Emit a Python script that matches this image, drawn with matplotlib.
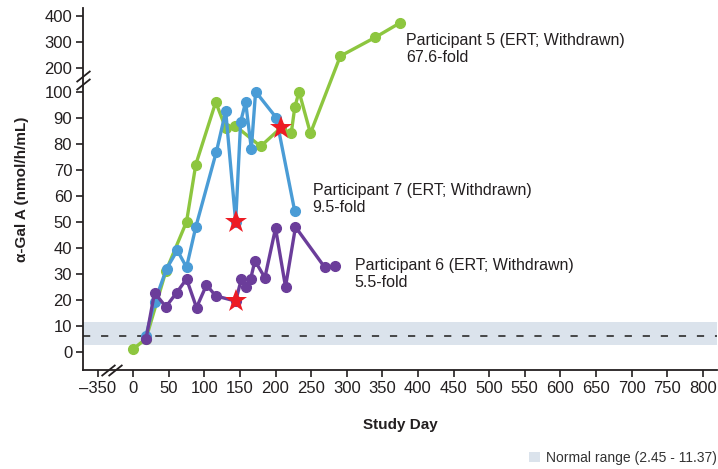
import numpy as np
import matplotlib
matplotlib.use("Agg")
import matplotlib.pyplot as plt
from matplotlib.patches import Patch

plt.rcParams['font.family'] = ['Liberation Sans', 'DejaVu Sans']

# ---------------- data ----------------
p5_days = [-2, 18, 46, 75, 88, 116, 130, 143, 179, 207, 222, 227, 233, 249, 291, 340, 375]
p5_vals = [1.0, 5.0, 31, 50, 72, 96, 86, 87, 79, 86, 84, 94, 100, 84, 247, 319, 375]

p7_days = [18, 30, 47, 62, 75, 88, 117, 130, 144, 151, 158, 166, 172, 201, 227]
p7_vals = [6.2, 19, 32, 39, 32.5, 48, 77, 92.5, 50, 88.5, 96, 78, 100.5, 90, 54]

p6_days = [18, 30, 46, 61, 75, 89, 103, 116, 144, 152, 158, 165, 171, 185, 200, 214, 228, 269, 284]
p6_vals = [4.8, 22.7, 17.3, 22.7, 28, 17, 25.7, 21.5, 19.5, 28, 25, 28, 35, 28.5, 47.5, 25, 48, 32.5, 33]

star_days = [144, 144, 208]
star_vals = [50, 19.5, 86]

normal_low, normal_high = 2.45, 11.37
normal_ref = 6.2

x_ticks = [-350, 0, 50, 100, 150, 200, 250, 300, 350, 400, 450, 500, 550, 600, 650, 700, 750, 800]
y_ticks = [0, 10, 20, 30, 40, 50, 60, 70, 80, 90, 100, 200, 300, 400]

labels = ["Participant 5 (ERT; Withdrawn)\n67.6-fold",
          "Participant 7 (ERT; Withdrawn)\n9.5-fold",
          "Participant 6 (ERT; Withdrawn)\n5.5-fold"]
legend_label = "Normal range (2.45 - 11.37)"

# ---------------- colours ----------------
GREEN = "#8dc63f"
BLUE = "#4a9cd6"
PURPLE = "#6b3d9a"
RED = "#ed1c24"
BAND = "#dbe3ec"
DARK = "#231f20"

# ---------------- broken scales ----------------
def xf(x):
    x = np.asarray(x, float)
    return np.where(x < -350, x + 300, np.where(x < 0, x / 7.0, x))

def xi(t):
    t = np.asarray(t, float)
    return np.where(t < -50, t - 300, np.where(t < 0, t * 7.0, t))

def yf(v):
    v = np.asarray(v, float)
    return np.where(v <= 100, v, np.where(v <= 200, 100 + (v - 100) * 0.09, 109 + (v - 200) * 0.1))

def yi(t):
    t = np.asarray(t, float)
    return np.where(t <= 100, t, np.where(t <= 109, 100 + (t - 100) / 0.09, 200 + (t - 109) * 10))

W, H = 718, 469
fig = plt.figure(figsize=(W / 100, H / 100), dpi=100)
ax = fig.add_axes([83.3 / W, 99 / H, (717 - 83.3) / W, (460.5 - 99) / H])
ax.set_xscale('function', functions=(xf, xi))
ax.set_yscale('function', functions=(yf, yi))
ax.set_xlim(-370, 820)
ax.set_ylim(-7, 430)

# normal range
ax.axhspan(normal_low, normal_high, color=BAND, lw=0, zorder=0)
ax.axhline(normal_ref, color="#3a3a3a", lw=1.3, dashes=(4, 6), zorder=1)

lkw = dict(lw=2.4, marker='o', markersize=7, solid_joinstyle='round', solid_capstyle='round')
ax.plot(p5_days, p5_vals, color=GREEN, zorder=3, **lkw)
ax.plot(p7_days, p7_vals, color=BLUE, zorder=4, **lkw)
ax.plot(p6_days, p6_vals, color=PURPLE, zorder=5, **lkw)
ax.plot(star_days, star_vals, ls='none', marker='*', markersize=17, color=RED,
        markeredgewidth=0, zorder=6)

tkw = dict(fontsize=11.5, color=DARK, va='center', ha='left', linespacing=1.15)
ax.text(383, 275, labels[0], **tkw)
ax.text(252, 58.9, labels[1], **tkw)
ax.text(311, 29.9, labels[2], **tkw)

# axes styling
for s in ['top', 'right']:
    ax.spines[s].set_visible(False)
for s in ['left', 'bottom']:
    ax.spines[s].set_linewidth(1.3)
    ax.spines[s].set_color(DARK)
ax.set_xticks(x_ticks)
ax.set_xticklabels([("\u2013" + str(-v)) if v < 0 else str(v) for v in x_ticks])
ax.set_yticks(y_ticks)
ax.set_yticklabels([str(v) for v in y_ticks])
ax.xaxis.set_minor_locator(matplotlib.ticker.NullLocator())
ax.yaxis.set_minor_locator(matplotlib.ticker.NullLocator())
ax.tick_params(axis='both', direction='out', length=5, width=1.2, color=DARK,
               labelsize=12, labelcolor=DARK, pad=3)

ax.set_xlabel("Study Day", fontsize=11, fontweight='bold', color=DARK, labelpad=16)
ax.set_ylabel("\u03b1-Gal A (nmol/h/mL)", fontsize=11, fontweight='bold', color=DARK, labelpad=11)

# break marks
brk = [(-1, -0.8), (1, 0.8)]
ax.plot([-249, -180], [0, 0], transform=ax.get_xaxis_transform(), ls='none',
        marker=brk, markersize=10, markeredgewidth=1.3, color=DARK, clip_on=False, zorder=7)
ax.plot([0, 0], [133, 166], transform=ax.get_yaxis_transform(), ls='none',
        marker=brk, markersize=10, markeredgewidth=1.3, color=DARK, clip_on=False, zorder=7)

fig.legend(handles=[Patch(facecolor=BAND, edgecolor='none')], labels=[legend_label],
           loc='center left', bbox_to_anchor=(522 / W, 1 - 458 / H), frameon=False,
           fontsize=10, handlelength=0.8, handleheight=0.8, handletextpad=0.4,
           borderpad=0, labelcolor="#333333")

fig.savefig("out.png", dpi=100)
